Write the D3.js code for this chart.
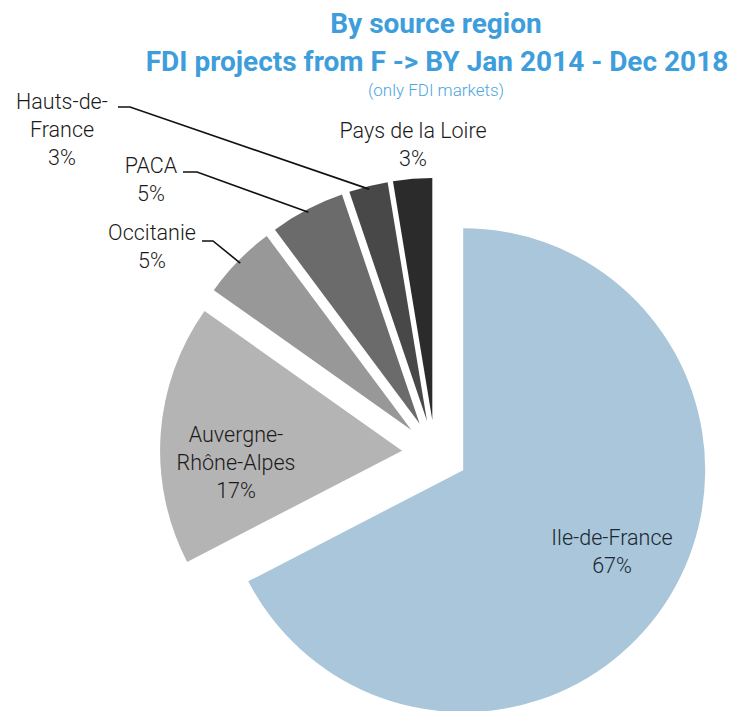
<!DOCTYPE html>
<html><head><meta charset="utf-8">
<script src="https://cdn.jsdelivr.net/npm/d3@7"></script>
<style>body{margin:0;background:#fff}</style>
</head><body>
<svg id="c" width="734" height="711"></svg>
<script>
// ---- data ----
const regions = ["Ile-de-France","Auvergne-Rhône-Alpes","Occitanie","PACA","Hauts-de-France","Pays de la Loire"];
const shares = [67.4, 17.4, 5.0, 5.0, 2.6, 2.6];
const labelLines = [["Ile-de-France"],["Auvergne-","Rhône-Alpes"],["Occitanie"],["PACA"],["Hauts-de-","France"],["Pays de la Loire"]];
const titleLines = ["By source region","FDI projects from F -> BY Jan 2014 - Dec 2018"];
const subtitle = "(only FDI markets)";

// ---- layout / style ----
const W = 734, H = 711, cx = 435, cy = 453, R = 242, explode = 33;
const colors = ["#a9c6da","#b4b4b4","#989898","#6b6b6b","#484848","#2b2b2b"];
const labelLayout = [
  {x:612, y:545},
  {x:236, y:442},
  {x:152, y:240, end:[202,241], elbow:[213,241]},
  {x:151, y:173, end:[183,172], elbow:[197,172]},
  {x:62,  y:109, end:[118,107], elbow:[130,107]},
  {x:413, y:138}
];
const lineGap = 28;

const svg = d3.select("#c");
const font = "Roboto, 'Open Sans', sans-serif";

// title
svg.append("text").attr("x",436).attr("y",33).attr("text-anchor","middle")
  .attr("font-family",font).attr("font-weight",700).attr("font-size",28)
  .attr("fill","#3d9edb").text(titleLines[0]);
svg.append("text").attr("x",437).attr("y",71).attr("text-anchor","middle")
  .attr("font-family",font).attr("font-weight",700).attr("font-size",28)
  .attr("fill","#3d9edb").text(titleLines[1]);
svg.append("text").attr("x",436).attr("y",96).attr("text-anchor","middle")
  .attr("font-family",font).attr("font-weight",300).attr("font-size",17)
  .attr("fill","#4ea6de").text(subtitle);

const pie = d3.pie().sort(null).value(d => d);
const arcs = pie(shares);
const arc = d3.arc().innerRadius(0).outerRadius(R);
const color = d3.scaleOrdinal().domain(regions).range(colors);
const pct = v => Math.round(v) + "%";

function dir(a){ return [Math.sin(a), -Math.cos(a)]; }

const g = svg.append("g").attr("transform",`translate(${cx},${cy})`);
arcs.forEach((a,i) => {
  const mid = (a.startAngle + a.endAngle)/2;
  const [dx,dy] = dir(mid);
  const ox = dx*explode, oy = dy*explode;
  g.append("path").attr("d", arc(a)).attr("fill", color(regions[i]))
    .attr("transform",`translate(${ox},${oy})`);
  const L = labelLayout[i];
  if (L.end) {
    const px = cx + ox + dx*(R-3), py = cy + oy + dy*(R-3);
    svg.append("polyline")
      .attr("points", [[px,py], L.elbow, L.end].map(p=>p.join(",")).join(" "))
      .attr("fill","none").attr("stroke","#111").attr("stroke-width",1.6);
  }
  const lines = labelLines[i].concat([pct(shares[i])]);
  const t = svg.append("text").attr("text-anchor","middle")
    .attr("font-family",font).attr("font-weight",300).attr("font-size",21.5)
    .attr("fill", i===0 ? "#1a2630" : "#1a1a1a");
  lines.forEach((s,k) => {
    t.append("tspan").attr("x",L.x).attr("y",L.y + k*lineGap).text(s);
  });
});
</script>
</body></html>
